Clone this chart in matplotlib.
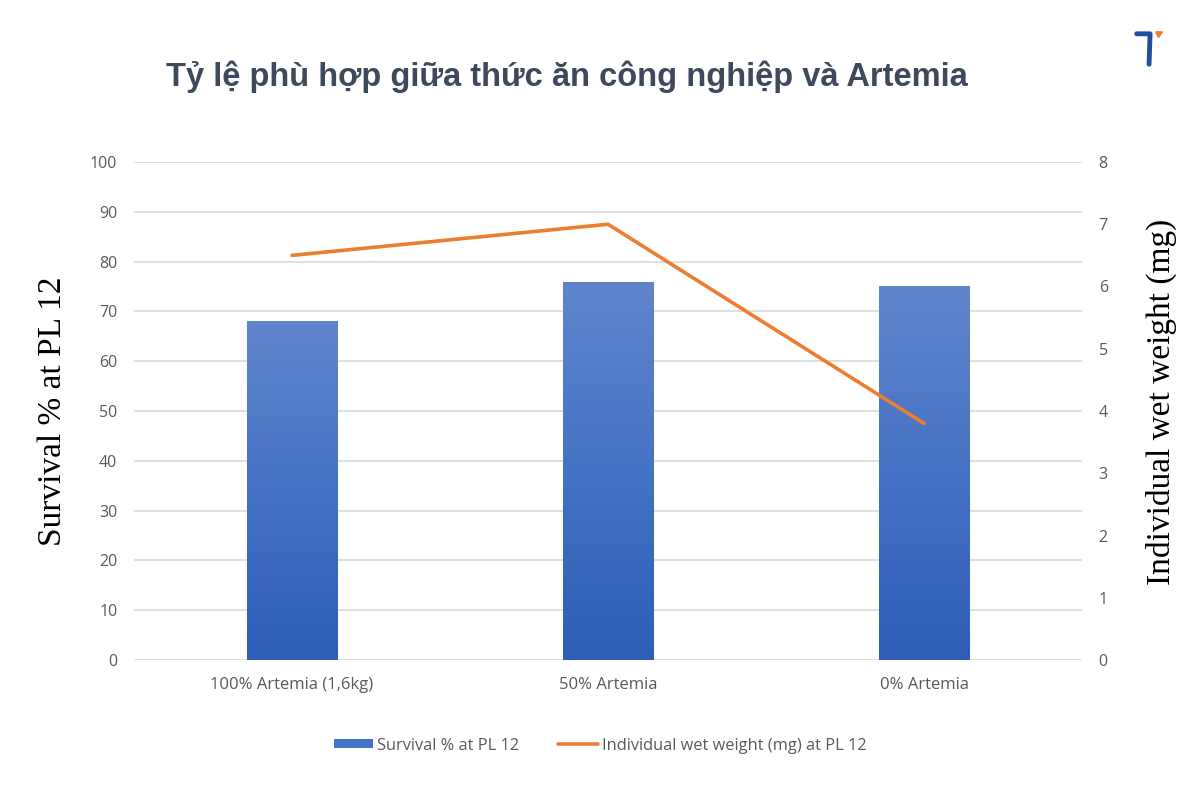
import numpy as np
import matplotlib.pyplot as plt
from matplotlib.patches import Polygon
from matplotlib.colors import LinearSegmentedColormap

categories = ["100% Artemia (1,6kg)", "50% Artemia", "0% Artemia"]
survival = [68, 76, 75]
wet_weight = [6.5, 7.0, 3.8]

title = "Tỷ lệ phù hợp giữa thức ăn công nghiệp và Artemia"
bar_label = "Survival % at PL 12"
line_label = "Individual wet weight (mg) at PL 12"

tick_grey = "#595959"
grid_grey = "#d9d9d9"

fig = plt.figure(figsize=(12, 8), dpi=100)
ax = fig.add_axes([0.1117, 0.175, 0.79, 0.6225])
ax2 = ax.twinx()

x = np.arange(len(categories))
bars = ax.bar(x, survival, width=0.285, color="#4472c4", label=bar_label, zorder=2)

# gradient fill on the bars, lighter at the top
grad = np.linspace(0, 1, 256).reshape(-1, 1)
cmap = LinearSegmentedColormap.from_list("barfade", ["#2e5db7", "#4472c4", "#6185cc"])
for b in bars:
    bx, by = b.get_x(), b.get_y()
    w, h = b.get_width(), b.get_height()
    im = ax.imshow(grad, cmap=cmap, aspect="auto", origin="lower",
                   extent=[bx, bx + w, by, by + h], zorder=2)
    im.set_clip_path(b)
ax.set_xlim(-0.5, 2.5)
ax.set_ylim(0, 100)
ax.set_yticks(np.arange(0, 101, 10))
ax.yaxis.grid(True, color=grid_grey, linewidth=1.2, zorder=0)
ax.set_axisbelow(True)

ax2.plot(x, wet_weight, color="#ed7d31", linewidth=2.6, label=line_label,
         solid_capstyle="round")
ax2.set_ylim(0, 8)
ax2.set_yticks(np.arange(0, 9, 1))

for a in (ax, ax2):
    for s in a.spines.values():
        s.set_visible(False)
    a.tick_params(axis="both", length=0, colors=tick_grey, labelsize=11.5)
    for lab in a.get_xticklabels() + a.get_yticklabels():
        lab.set_family("Open Sans")

ax.set_xticks(x)
ax.set_xticklabels(categories, family="Open Sans", fontsize=12, color=tick_grey)
ax.tick_params(axis="x", pad=12)
ax.tick_params(axis="y", pad=12)
ax2.tick_params(axis="y", pad=12)

ax.set_ylabel("Survival % at PL 12", family="Liberation Serif", fontsize=24,
              color="black", labelpad=16)
ax2.set_ylabel("Individual wet weight (mg)", family="Liberation Serif", fontsize=24,
               color="black")
ax2.yaxis.set_label_coords(1.0675, 0.518)

fig.text(0.472, 0.904, title, ha="center", va="center", fontsize=23.5,
         fontweight="bold", family="Liberation Sans", color="#3e4a5c")

h1, l1 = ax.get_legend_handles_labels()
h2, l2 = ax2.get_legend_handles_labels()
leg = fig.legend(h1 + h2, l1 + l2, loc="center", bbox_to_anchor=(0.5, 0.068),
                 ncol=2, frameon=False, handlelength=2.4, handleheight=0.45,
                 columnspacing=2.4, handletextpad=0.25,
                 prop={"family": "Open Sans", "size": 11.8})
for t in leg.get_texts():
    t.set_color(tick_grey)

# small logo in the top right corner
logo = fig.add_axes([0.943, 0.915, 0.028, 0.0475])
logo.set_xlim(0, 1)
logo.set_ylim(0, 1)
logo.axis("off")
logo.plot([0.15, 0.55, 0.52], [0.9, 0.9, 0.1], color="#1f4e9c", linewidth=3.5,
          solid_capstyle="round", solid_joinstyle="round")
logo.add_patch(Polygon([[0.72, 0.95], [0.92, 0.95], [0.8, 0.8]], color="#ed7d31"))

fig.savefig("out.png", dpi=100)
